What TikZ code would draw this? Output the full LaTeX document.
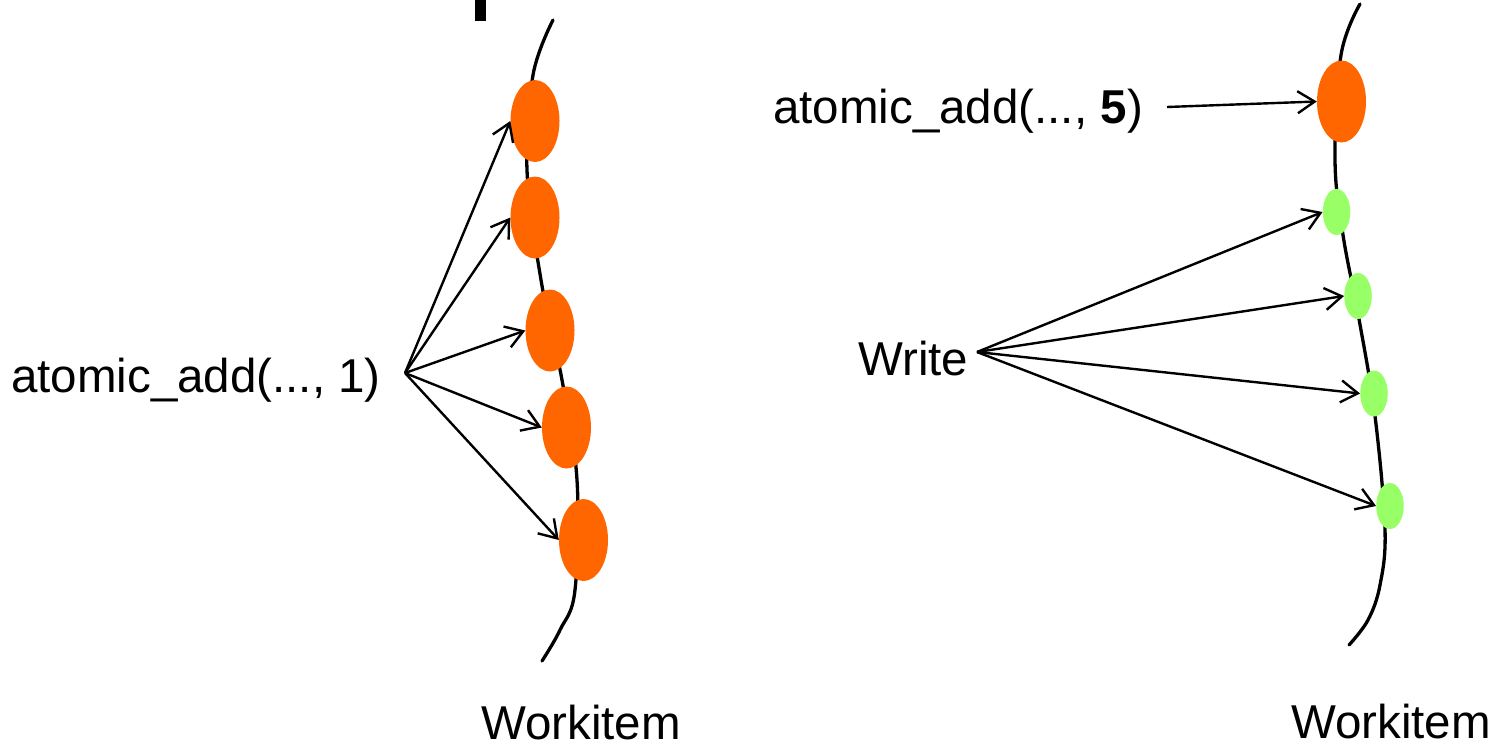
\documentclass[tikz,border=0pt]{standalone}
\usepackage{fontspec}
\setmainfont{Liberation Sans}
\usetikzlibrary{shapes.geometric,arrows.meta}

\definecolor{opcolor}{HTML}{FF6600}
\definecolor{writecolor}{HTML}{99FF66}

\tikzset{
  label text/.style={inner sep=0pt, font=\fontsize{47.5}{57}\selectfont},
  atomicop/.style={ellipse, fill=opcolor, draw=none, inner sep=0pt,
    minimum width=49pt, minimum height=82pt},
  writeop/.style={ellipse, fill=writecolor, draw=none, inner sep=0pt,
    minimum width=27.5pt, minimum height=46pt},
  timeline/.style={line width=3.3pt, line cap=round},
  arr/.style={line width=2.4pt, -{Straight Barb[length=17pt, width=22pt, line width=2.4pt]}}
}

\begin{document}
\begin{tikzpicture}[x=1pt, y=-1pt]
  \useasboundingbox (0,0) rectangle (1498,744);

  % fragment of the heading above the picture
  \fill (475,0) rectangle (486,21);

  % ---------- left: every workitem does atomic_add(..., 1) ----------
  \draw[timeline] plot[smooth, tension=0.6] coordinates
    {(553,20) (533,75) (527,170) (541,280) (562,380) (577,480) (575,590) (560,630) (542,661)};

  \node[atomicop] (a1) at (535,121) {};
  \node[atomicop] (a2) at (535,217.5) {};
  \node[atomicop] (a3) at (550,330.5) {};
  \node[atomicop] (a4) at (566.5,427.5) {};
  \node[atomicop] (a5) at (583.5,540) {};

  \node[label text, anchor=base west] (addone) at (11,392) {atomic\_add(..., 1)};
  \coordinate (src1) at (405,373);
  \foreach \n in {a1,a2,a3,a4,a5}
    \draw[arr] (src1) -- (\n.west);

  \node[label text, anchor=base] (wi1) at (581,739) {Workitem};

  % ---------- right: plain writes, then one atomic_add(..., 5) ----------
  \draw[timeline] plot[smooth, tension=0.6] coordinates
    {(1360,4) (1341,55) (1335,160) (1343,235) (1359,319) (1375,416) (1385,529) (1380,585) (1368,620) (1349,645)};

  \node[atomicop] (b0) at (1341.5,101.5) {};
  \node[writeop] (w1) at (1336.5,212) {};
  \node[writeop] (w2) at (1358,296) {};
  \node[writeop] (w3) at (1374,393.5) {};
  \node[writeop] (w4) at (1390,506) {};

  \node[label text, anchor=base west] (addfive) at (773,123) {atomic\_add(..., \textbf{5})};
  \coordinate (src5) at (1167,107);
  \draw[arr] (src5) -- (b0.west);

  \node[label text, anchor=base west] (write) at (858,375) {Write};
  \coordinate (src2) at (977,352);
  \foreach \n in {w1,w2,w3,w4}
    \draw[arr] (src2) -- (\n.west);

  \node[label text, anchor=base] (wi2) at (1391,738) {Workitem};
\end{tikzpicture}
\end{document}
